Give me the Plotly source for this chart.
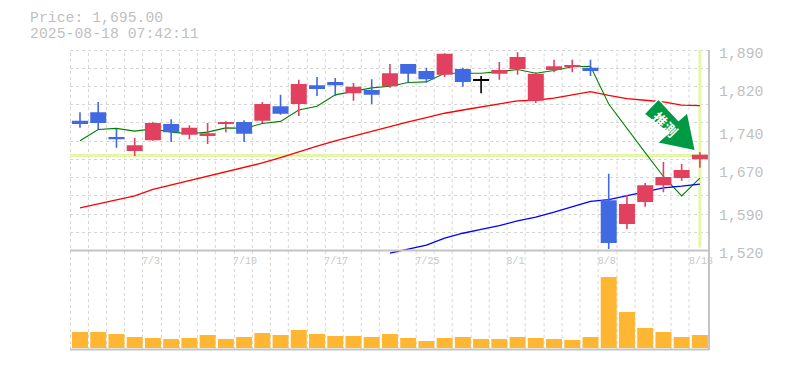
import plotly.graph_objects as go

dates = ["7/3\u00a0", "7/10", "7/17", "7/25", "8/1\u00a0", "8/8\u00a0", "8/18"]
date_idx = [4, 9, 14, 19, 24, 29, 34]
price_ticks = [1890, 1820, 1740, 1670, 1590, 1520]
price_labels = ["1,890", "1,820", "1,740", "1,670", "1,590", "1,520"]
current_price = 1695

colors = ["b","b","b","r","r","b","r","r","r","b","r","b","r","b","b","r","b","r",
          "b","b","r","b","k","r","r","r","r","r","b","b","r","r","r","r","r"]
highs = [1775,1794,1744,1727,1757,1762,1751,1755,1758,1760,1794,1807,1835,1840,1838,1829,1836,1864,
         1864,1857,1884,1857,1842,1868,1886,1849,1872,1872,1872,1661,1622,1644,1683,1679,1701]
body_top = [1759,1775,1729,1714,1755,1753,1746,1736,1757,1757,1790,1786,1827,1825,1831,1822,1816,1847,
            1864,1851,1883,1855,1833,1853,1877,1846,1860,1862,1857,1612,1605,1640,1655,1668,1696]
body_bot = [1753,1755,1725,1703,1723,1738,1733,1731,1753,1735,1759,1772,1790,1818,1825,1810,1807,1823,
            1846,1836,1844,1831,1833,1846,1855,1796,1853,1859,1851,1533,1568,1609,1640,1653,1688]
lows = [1746,1744,1709,1694,1722,1720,1725,1716,1738,1720,1755,1770,1768,1805,1805,1796,1790,1820,
        1831,1830,1840,1822,1810,1835,1844,1792,1849,1849,1842,1522,1559,1600,1627,1648,1672]

green = [1722,1743,1745,1740,1744,1738,1735,1738,1746,1745,1754,1758,1779,1786,1807,1813,1820,1823,
         1830,1831,1847,1847,1847,1850,1854,1847,1852,1859,1860,1790,1744,1700,1656,1620,1653]
red = [1598,1605,1612,1620,1632,1640,1648,1656,1664,1672,1681,1691,1702,1712,1722,1731,1740,1749,
       1757,1765,1773,1779,1785,1790,1796,1797,1801,1807,1813,1806,1800,1797,1794,1788,1787]
blue_start = 17
blue = [1514,1521,1529,1542,1551,1558,1565,1574,1581,1590,1600,1610,1613,1620,1628,1635,1638,1642]
volumes = [16,16,14,11,10,9,10,13,9,11,15,13,18,14,12,12,11,14,
           10,7,10,11,9,9,11,10,9,8,11,71,36,20,16,11,13]

x = list(range(35))

# page body has an 8 px margin, so the figure is laid out 8 px smaller and offset
OFF = 8
W, H = 785 - OFF, 370 - OFF
L, R, T, B = 70, 709.5, 50, 350
px = lambda a: (a - L) / (R - L)
py = lambda b: 1 - (b - T) / (B - T)

fig = go.Figure()
for vals, col, xs, lw in [
    (red, "#ff0000", x, 1.3),
    (green, "#008000", x, 1.1),
    (blue, "#0000ff", x[blue_start:], 1.3),
]:
    fig.add_trace(go.Scatter(x=xs, y=vals, mode="lines",
                             line=dict(color=col, width=lw), hoverinfo="skip", yaxis="y"))

palette = {"r": "#e2405f", "b": "#4169e1", "k": "#000000"}
for key, col in palette.items():
    ids = [i for i in x if colors[i] == key]
    fig.add_trace(go.Bar(x=ids, base=[body_bot[i] for i in ids],
                         y=[max(body_top[i] - body_bot[i], 2.5) for i in ids],
                         width=0.877, marker=dict(color=col, line=dict(width=0)), yaxis="y3"))
    wx, wy = [], []
    for i in ids:
        wx += [i, i, None]
        wy += [lows[i], highs[i], None]
    fig.add_trace(go.Scatter(x=wx, y=wy, mode="lines", line=dict(color=col, width=1.6), yaxis="y3"))

fig.add_trace(go.Bar(x=x, y=volumes, width=0.877, marker=dict(color="#ffb733", line=dict(width=0)),
                     yaxis="y2"))

arrow = [(659, 99), (679, 120.5), (688, 112.5), (696, 151), (657.5, 143), (669, 133), (644.5, 114)]
path = "M " + " L ".join(f"{px(a):.4f},{py(b):.4f}" for a, b in arrow) + " Z"

GRID = "#d6d6d6"
AX = "#c4c4c4"
TXT = "#bfbfbf"
LIME = "#e4f6a8"
MONO = "Liberation Mono"

fig.update_layout(
    width=W, height=H, autosize=False, showlegend=False, barmode="overlay",
    paper_bgcolor="white", plot_bgcolor="rgba(0,0,0,0)",
    margin=dict(l=L - OFF, r=785 - R, t=T - OFF, b=370 - B, pad=0),
    xaxis=dict(range=[-0.548, 34.5], tickmode="array", tickvals=date_idx, ticktext=dates,
               ticks="", showline=False, zeroline=False, anchor="y", ticklabelshift=1,
               ticklabelstandoff=-2,
               showgrid=False, tickfont=dict(family=MONO, size=10, color="#c8c8c8")),
    yaxis=dict(domain=[py(255.4), 1], range=[1510, 1890], tickmode="array", tickvals=price_ticks,
               ticktext=price_labels, side="right", showgrid=False, zeroline=False, showline=False,
               tickfont=dict(family=MONO, size=14.8, color=TXT), ticks="", ticklabelstandoff=9,
               ticklabelshift=3),
    yaxis3=dict(overlaying="y", range=[1510, 1890], visible=False, showgrid=False),
    yaxis2=dict(domain=[0, py(250)], range=[-2, 98], visible=False, showgrid=False, zeroline=False),
)

# dashed background grid
for k in range(35):
    g = px(int(70 + 18.235 * k) + 0.5)
    fig.add_shape(type="line", xref="paper", x0=g, x1=g, yref="paper", y0=0, y1=1,
                  line=dict(color=GRID, width=1, dash="3px,3px"), layer="below")
for k in range(0, 11):
    g = py(int(50 + 18.235 * k) + 0.5)
    fig.add_shape(type="line", xref="paper", x0=0, x1=1, yref="paper", y0=g, y1=g,
                  line=dict(color=GRID, width=1, dash="3px,3px"), layer="below")

fig.add_shape(type="line", xref="paper", x0=0, x1=1, yref="y", y0=current_price, y1=current_price,
              line=dict(color=LIME, width=3), layer="between")
fig.add_shape(type="line", xref="x", x0=34, x1=34, yref="y", y0=1524, y1=1890,
              line=dict(color=LIME, width=3), layer="between")

for yy in [py(250.5), py(349.5)]:
    fig.add_shape(type="line", xref="paper", x0=0, x1=1, yref="paper", y0=yy, y1=yy,
                  line=dict(color=AX, width=2), layer="above")
fig.add_shape(type="line", xref="paper", x0=1, x1=1, yref="paper", y0=0, y1=1,
              line=dict(color=AX, width=2), layer="above")

fig.add_shape(type="path", xref="paper", yref="paper", path=path,
              fillcolor="#009944", line=dict(color="white", width=1.5), layer="above")
fig.add_annotation(xref="paper", yref="paper", x=px(666), y=py(123.5), text="<b>推測</b>", showarrow=False,
                   xanchor="center", yanchor="middle",
                   textangle=45, font=dict(family="Noto Sans CJK JP", size=14, color="white"))

for txt, yy in [("Price: 1,695.00", 18), ("2025-08-18 07:42:11", 33)]:
    fig.add_annotation(xref="paper", yref="paper", x=px(30), y=py(yy), text=txt, showarrow=False,
                       xanchor="left", yanchor="middle", xshift=-2, height=15,
                       font=dict(family=MONO, size=14.8, color=TXT))

fig.write_html("out.html")
